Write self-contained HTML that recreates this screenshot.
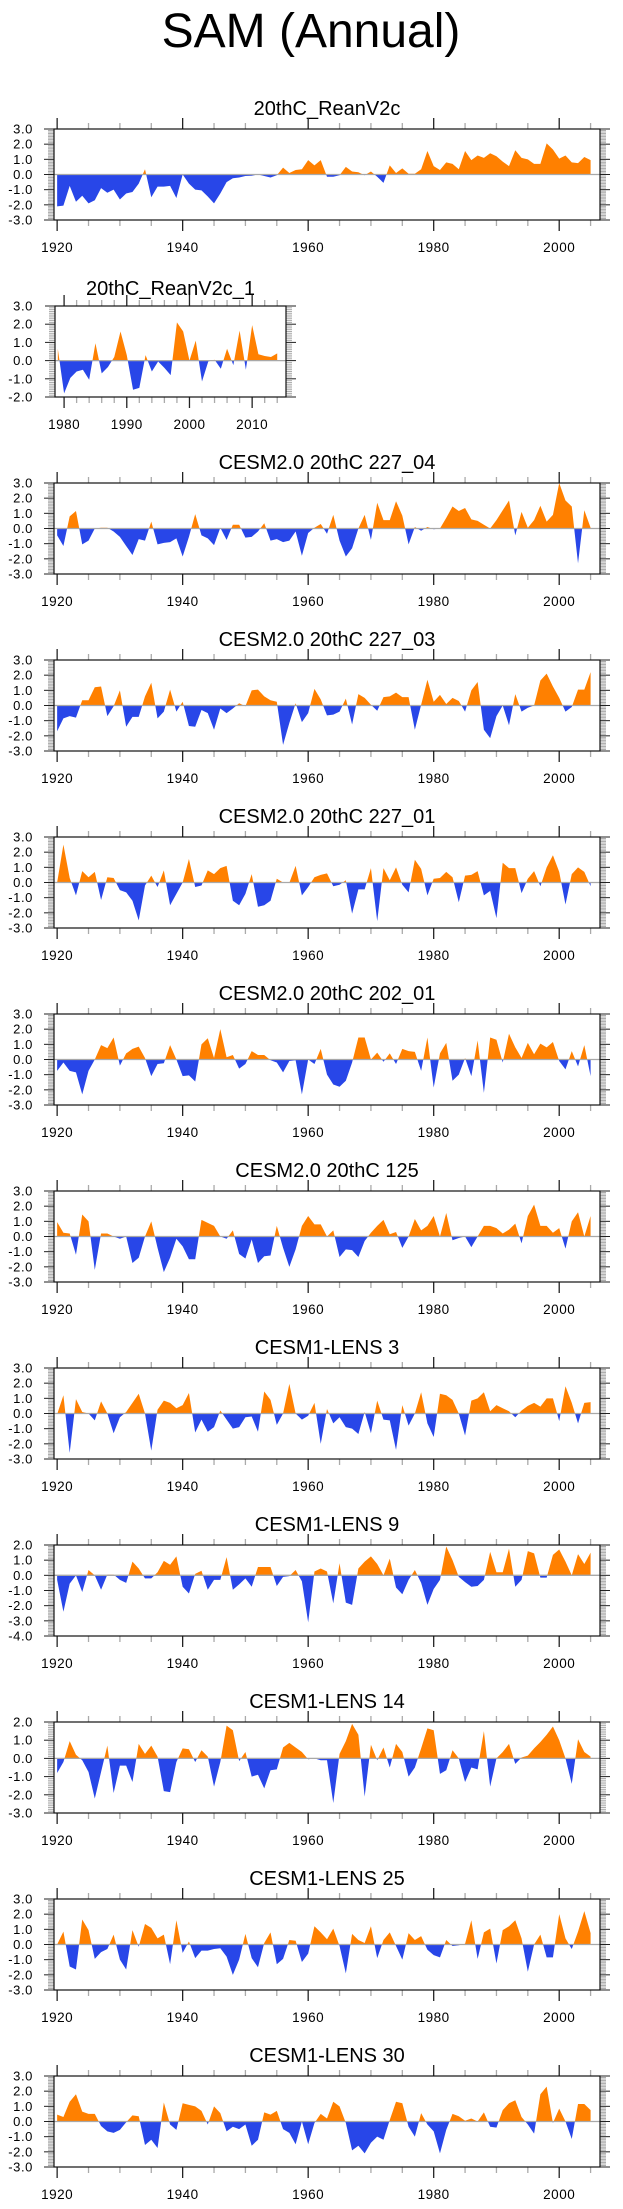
<!DOCTYPE html>
<html><head><meta charset="utf-8"><title>SAM (Annual)</title>
<style>
html,body{margin:0;padding:0;background:#fff;}
svg{display:block;font-family:"Liberation Sans",Arial,sans-serif;}
</style></head>
<body>
<svg id="fig" width="623" height="2209" viewBox="0 0 623 2209" xmlns="http://www.w3.org/2000/svg">
<text x="311" y="47" text-anchor="middle" font-size="48">SAM (Annual)</text>
</svg>
<script>
// ---- data (SAM index values) ----
const startMain = 1920;
const start2 = 1979;
const xTicksMain = [1920,1940,1960,1980,2000];
const xTicks2 = [1980,1990,2000,2010];
const yTicksStd = [3,2,1,0,-1,-2,-3];
const yTicks2 = [3,2,1,0,-1,-2];
const yTicks9 = [2,1,0,-1,-2,-3,-4];
const yTicks10 = [2,1,0,-1,-2,-3];
const titles = ["20thC_ReanV2c","20thC_ReanV2c_1","CESM2.0 20thC 227_04","CESM2.0 20thC 227_03","CESM2.0 20thC 227_01","CESM2.0 20thC 202_01","CESM2.0 20thC 125","CESM1-LENS 3","CESM1-LENS 9","CESM1-LENS 14","CESM1-LENS 25","CESM1-LENS 30"];

const reanV2c = [-2.1,-2.05,-0.75,-1.8,-1.4,-1.9,-1.7,-0.9,-1.2,-1.0,-1.65,-1.25,-1.15,-0.6,0.35,-1.5,-0.8,-0.8,-0.75,-1.55,0,-0.6,-1.0,-1.05,-1.45,-1.9,-1.25,-0.5,-0.25,-0.2,-0.1,-0.08,0,-0.1,-0.2,-0.05,0.45,0.1,0.3,0.35,0.95,0.6,0.95,-0.15,-0.15,-0.05,0.5,0.2,0.15,-0.05,0.2,-0.15,-0.55,0.6,0.1,0.4,0.05,0.05,0.35,1.55,0.55,0.3,0.8,0.7,0.35,1.55,0.95,1.25,1.1,1.4,1.2,0.85,0.55,1.6,1.1,1.0,0.7,0.7,2.05,1.65,1.05,1.25,0.8,0.75,1.15,0.95];
const reanV2c1 = [0.65,-1.8,-0.95,-0.6,-0.5,-1.05,0.95,-0.7,-0.35,0.2,1.6,0.3,-1.6,-1.5,0.3,-0.6,-0.05,-0.4,-0.8,2.1,1.6,0,1.1,-1.15,-0.05,0.05,-0.45,0.65,-0.25,1.65,-0.5,1.95,0.35,0.25,0.2,0.4];
const c227_04 = [-0.45,-1.15,0.8,1.15,-1.05,-0.8,0,0.05,0.05,-0.2,-0.55,-1.15,-1.75,-0.7,-0.8,0.45,-1.05,-0.95,-0.9,-0.65,-1.85,-0.55,0.95,-0.45,-0.65,-1.1,0.05,-0.75,0.25,0.25,-0.6,-0.55,-0.2,0.35,-0.8,-0.7,-0.9,-0.8,-0.2,-1.8,-0.3,0.05,0.3,-0.35,0.9,-0.8,-1.85,-1.3,0,0.9,-0.75,1.7,0.55,0.55,1.8,0.85,-1.05,0.1,-0.15,0.1,-0.05,0,0.7,1.45,1.15,1.35,0.6,0.5,0.25,0,0.55,1.2,1.85,-0.45,1.1,0.05,0.55,1.5,0.45,0.9,3.0,1.85,1.45,-2.3,1.2,0.05];
const c227_03 = [-1.7,-0.85,-0.7,-0.8,0.35,0.35,1.2,1.25,-0.7,-0.05,1.0,-1.4,-0.75,-0.75,0.6,1.5,-0.85,-0.4,1.05,-0.4,0.25,-1.35,-1.4,-0.3,-0.5,-1.6,-0.2,-0.5,-0.2,0.15,-0.05,1.0,1.05,0.6,0.35,0.25,-2.6,-1.15,0.15,-1.1,-0.5,1.1,0.4,-0.65,-0.6,-0.4,0.45,-1.25,0.75,0.5,0.05,-0.35,0.55,0.6,0.85,0.55,0.55,-1.6,0.05,1.7,0.25,0.7,0.1,0.5,0.3,-0.4,1.0,1.55,-1.6,-2.15,-0.7,0,-1.3,0.75,-0.4,-0.15,0,1.65,2.1,1.25,0.5,-0.4,-0.1,1.05,1.05,2.2];
const c227_01 = [0,2.5,0.3,-0.85,0.75,0.35,0.7,-1.15,0.35,0.3,-0.5,-0.65,-1.2,-2.5,-0.2,0.45,-0.3,0.8,-1.5,-0.75,0,1.55,-0.3,-0.2,0.8,0.55,0.95,1.1,-1.2,-1.5,-0.75,0.55,-1.6,-1.5,-1.2,0.25,0,-0.02,1.1,-0.85,-0.3,0.35,0.5,0.6,-0.25,-0.15,0.15,-2.05,-0.45,-0.45,0.95,-2.55,0.95,0.15,1.0,-0.15,-0.65,1.5,0.9,-0.85,0.25,0.3,0.7,0.35,-1.3,0.45,0.5,0.75,-0.85,-0.55,-2.35,1.3,0.95,0.95,-0.7,0.25,0.75,-0.25,1.0,1.8,0.7,-1.45,0.55,1.0,0.7,-0.25];
const c202_01 = [-0.75,-0.2,-0.75,-0.85,-2.3,-0.75,0,0.95,0.75,1.45,-0.4,0.4,0.7,0.85,0.1,-1.1,-0.3,-0.25,0.95,0,-1.1,-1.05,-1.45,1.0,1.4,0.1,2.0,0.15,0.3,-0.6,-0.3,0.55,0.3,0.3,-0.05,-0.2,-0.85,-0.1,-0.05,-2.3,0,-0.3,0.7,-1.0,-1.65,-1.8,-1.4,-0.2,1.45,1.45,0,0.45,-0.15,0.4,-0.3,0.7,0.55,0.5,-0.75,1.45,-1.85,0.4,1.1,-1.4,-1.0,0.1,-1.1,1.25,-2.2,1.45,1.3,-0.2,1.7,0.8,0.1,1.1,0.35,1.05,0.8,1.15,-0.1,-0.65,0.55,-0.45,0.95,-1.1];
const c125 = [0.95,0.25,0.2,-1.2,1.45,1.0,-2.2,0.2,0.2,0,-0.15,0,-1.75,-1.4,0,1.0,-0.75,-2.35,-1.4,-0.15,-0.65,-1.5,-1.5,1.1,0.9,0.7,0,-0.15,0.4,-1.15,-1.45,-0.2,-1.75,-1.3,-1.25,0.7,-0.75,-2.0,-0.85,0.7,1.35,0.8,0.8,0,0.4,-1.35,-0.85,-0.9,-1.35,-0.3,0.25,0.7,1.1,0.15,0.3,-0.75,0,1.15,0.4,0.7,1.35,0,1.55,-0.25,-0.1,0,-0.7,0,0.7,0.7,0.55,0.2,0.45,0.85,-0.45,1.35,2.1,0.7,0.7,0.25,0.55,-0.8,1.0,1.6,0,1.35];
const lens3 = [-0.05,1.2,-2.6,0.95,0.1,0,-0.45,0.8,0,-1.3,-0.25,0.1,0.7,1.3,0,-2.45,0.25,0.85,0.7,0.35,0.55,1.35,-1.25,-0.4,-1.2,-0.9,0.2,-0.4,-1.0,-0.9,-0.25,-0.2,-1.2,1.45,0.9,-0.75,0,1.95,0,-0.4,-0.15,0.7,-2.0,0.3,-0.65,-0.25,-0.9,-1.0,-1.35,0.1,-1.3,0.85,-0.4,-0.45,-2.4,0.55,-0.8,0,1.4,-0.65,-1.55,1.3,1.2,0.9,0,-1.45,0.85,1.0,1.4,0.15,0.55,0.35,0.15,-0.25,0.2,0.5,0.7,0.45,1.0,1.0,-0.5,1.8,0.7,-0.65,0.7,0.75];
const lens9 = [-0.3,-2.4,-0.55,0,-1.1,0.35,0,-0.95,0.05,0.05,-0.3,-0.5,0.9,0.45,-0.2,-0.2,0.2,0.95,0.7,1.25,-0.75,-1.2,0.1,0.3,-0.95,-0.3,-0.3,1.2,-0.95,-0.6,-0.2,-0.75,0.55,0.55,0.55,-0.7,-0.1,-0.05,0.35,-0.4,-3.1,0.25,0.45,0.25,-1.85,0.8,-1.8,-1.95,0.45,0.9,1.25,0.75,0,1.1,-0.8,-1.25,-0.3,0.35,-0.5,-1.95,-0.9,-0.3,1.9,1.0,-0.1,-0.45,-0.75,-0.7,-0.3,1.55,0.2,0.2,1.75,-0.75,-0.3,1.6,1.45,-0.15,-0.15,1.35,1.7,0.9,0,1.4,0.75,1.5];
const lens14 = [-0.8,-0.2,0.95,0.2,-0.1,-0.75,-2.2,-0.75,0.7,-1.9,-0.4,-0.4,-1.3,0.8,0.25,0.7,0.1,-1.8,-1.85,-0.2,0.55,0.5,-0.2,0.45,0.1,-1.55,-0.2,1.8,1.55,-0.15,0.35,-1.0,-0.9,-1.65,-0.65,-0.6,0.6,0.85,0.6,0.35,-0.05,0,-0.1,-0.1,-2.45,0.25,0.95,1.9,1.3,-2.1,0.75,-0.1,0.6,-0.5,0.8,0.35,-1.0,-0.5,0.55,1.65,1.55,-0.85,-0.65,0.45,0,-1.3,-0.5,-0.6,1.5,-1.55,0,0.35,0.8,-0.3,0.05,0.15,0.55,0.9,1.3,1.75,1.0,0,-1.4,1.05,0.35,0.1];
const lens25 = [0,0.85,-1.45,-1.65,1.65,0.95,-0.95,-0.5,-0.3,0.65,-1.0,-1.65,0.95,-0.15,1.35,1.1,0.4,0.65,-1.3,1.6,-0.55,0.2,-0.9,-0.4,-0.4,-0.3,-0.25,-0.8,-2.0,-1.0,0.7,-0.9,-1.5,0.1,0.8,-1.3,-0.95,0.3,0.25,-1.15,-0.6,1.2,0.8,0.35,1.05,-0.1,-1.9,0.7,0.3,0.1,1.2,-0.9,0.3,0.8,-0.1,-1.0,0.75,0.3,0.55,-0.35,-0.7,-0.85,0.3,-0.1,-0.05,0.05,1.6,-0.95,0.8,1.05,-1.25,0.95,1.2,1.6,0.4,-1.8,0,0.65,-0.85,-0.85,2.0,0.4,-0.3,0.85,2.2,0.75];
const lens30 = [0.45,0.3,1.3,1.8,0.65,0.5,0.5,-0.3,-0.65,-0.75,-0.55,-0.05,0.4,0.35,-1.55,-1.2,-1.75,1.25,-0.2,-0.55,1.2,1.1,1.0,0.7,-0.2,1.0,0.55,-0.65,-0.35,-0.5,-0.2,-1.6,-1.2,0.6,0.45,0.7,-0.5,-0.75,-1.5,0,-1.5,-0.1,0.5,0.2,1.3,1.0,-0.1,-1.9,-1.6,-2.1,-1.4,-1.0,-1.2,0.1,1.3,1.2,-0.35,-1.0,0.55,-0.2,-0.65,-2.1,-0.55,0.5,0.35,0.05,0.2,0,0.6,-0.35,-0.4,0.75,1.2,1.4,0.3,-0.2,-0.8,1.8,2.3,-0.1,0.85,0,-1.15,1.15,1.15,0.75];

// ---- layout ----
const NS = "http://www.w3.org/2000/svg";
const svg = document.getElementById('fig');
const mainBox = {x0:54, x1:600, xmin:1919.5, xmax:2006.5, h:91};
const panels = [
  {data:reanV2c, start:startMain, top:129, yt:yTicksStd, box:mainBox, xt:xTicksMain, minor:5, tdy:-21},
  {data:reanV2c1, start:start2, top:306, yt:yTicks2, box:{x0:55,x1:286,xmin:1978.55,xmax:2015.4,h:91}, xt:xTicks2, minor:2, tdy:-18},
  {data:c227_04, start:startMain, top:483, yt:yTicksStd, box:mainBox, xt:xTicksMain, minor:5, tdy:-21},
  {data:c227_03, start:startMain, top:660, yt:yTicksStd, box:mainBox, xt:xTicksMain, minor:5, tdy:-21},
  {data:c227_01, start:startMain, top:837, yt:yTicksStd, box:mainBox, xt:xTicksMain, minor:5, tdy:-21},
  {data:c202_01, start:startMain, top:1014, yt:yTicksStd, box:mainBox, xt:xTicksMain, minor:5, tdy:-21},
  {data:c125, start:startMain, top:1191, yt:yTicksStd, box:mainBox, xt:xTicksMain, minor:5, tdy:-21},
  {data:lens3, start:startMain, top:1368, yt:yTicksStd, box:mainBox, xt:xTicksMain, minor:5, tdy:-21},
  {data:lens9, start:startMain, top:1545, yt:yTicks9, box:mainBox, xt:xTicksMain, minor:5, tdy:-21},
  {data:lens14, start:startMain, top:1722, yt:yTicks10, box:mainBox, xt:xTicksMain, minor:5, tdy:-21},
  {data:lens25, start:startMain, top:1899, yt:yTicksStd, box:mainBox, xt:xTicksMain, minor:5, tdy:-21},
  {data:lens30, start:startMain, top:2076, yt:yTicksStd, box:mainBox, xt:xTicksMain, minor:5, tdy:-21}
];

function mk(tag, attrs, parent){
  const e = document.createElementNS(NS, tag);
  for (const k in attrs) e.setAttribute(k, attrs[k]);
  (parent||svg).appendChild(e);
  return e;
}

panels.forEach((p, pi) => {
  const b = p.box, top = p.top, bot = top + b.h;
  const ymax = p.yt[0], ymin = p.yt[p.yt.length-1];
  const X = yr => b.x0 + (yr - b.xmin) / (b.xmax - b.xmin) * (b.x1 - b.x0);
  const Y = v => top + (ymax - v) / (ymax - ymin) * b.h;
  const g = mk('g', {});
  
  

  const t = mk('text', {x:(b.x0+b.x1)/2, y:top+p.tdy+7, 'text-anchor':'middle', 'font-size':20}, g);
  
  
  t.textContent = titles[pi];

  // clip paths
  const y0 = Y(0);
  const cpA = mk('clipPath', {id:'ca'+pi}, g);
  mk('rect', {x:b.x0, y:top, width:b.x1-b.x0, height:y0-top}, cpA);
  const cpB = mk('clipPath', {id:'cb'+pi}, g);
  mk('rect', {x:b.x0, y:y0, width:b.x1-b.x0, height:bot-y0}, cpB);

  let d = 'M' + X(p.start).toFixed(2) + ',' + y0.toFixed(2);
  p.data.forEach((v, i) => { d += ' L' + X(p.start+i).toFixed(2) + ',' + Y(v).toFixed(2); });
  d += ' L' + X(p.start+p.data.length-1).toFixed(2) + ',' + y0.toFixed(2) + ' Z';
  const pos = mk('path', {d:d, fill:'#ff8000', 'clip-path':'url(#ca'+pi+')'}, g);
  
  
  const neg = mk('path', {d:d, fill:'#2846e8', 'clip-path':'url(#cb'+pi+')'}, g);
  
  

  const zl = mk('line', {x1:b.x0, x2:b.x1, y1:y0, y2:y0, stroke:'#a8a8a8', 'stroke-width':1.3}, g);
  
  

  // y minor ticks
  for (let k = Math.round(ymin*10); k <= Math.round(ymax*10); k++) {
    const yy = Y(k/10);
    const major = k % 10 === 0;
    const len = major ? 10 : 6;
    const col = major ? '#222' : '#aaa';
    mk('line', {x1:b.x0-len, x2:b.x0, y1:yy, y2:yy, stroke:col, 'stroke-width':1}, g);
    mk('line', {x1:b.x1, x2:b.x1+len, y1:yy, y2:yy, stroke:col, 'stroke-width':1}, g);
  }
  // x ticks
  const first = Math.ceil(b.xmin / p.minor) * p.minor;
  for (let yr = first; yr <= b.xmax; yr += p.minor) {
    const xx = X(yr);
    const major = p.xt.indexOf(yr) >= 0 || (p.minor === 5 && yr % 20 === 0) || (p.minor === 2 && yr % 10 === 0);
    const len = major ? 11 : 6;
    const col = major ? '#222' : '#aaa';
    mk('line', {x1:xx, x2:xx, y1:top-len, y2:top, stroke:col, 'stroke-width':1.3}, g);
    mk('line', {x1:xx, x2:xx, y1:bot, y2:bot+len, stroke:col, 'stroke-width':1.3}, g);
  }
  // frame
  const fr = mk('rect', {x:b.x0, y:top, width:b.x1-b.x0, height:b.h, fill:'none', stroke:'#111', 'stroke-width':1.2}, g);
  
  

  // y labels
  p.yt.forEach(v => {
    const tx = mk('text', {x:33, y:Y(v)+4.5, 'text-anchor':'end', 'font-size':13, 'letter-spacing':0.6}, g);
    
    
    tx.textContent = v.toFixed(1);
  });
  // x labels
  p.xt.forEach(yr => {
    const tx = mk('text', {x:X(yr), y:bot+32, 'text-anchor':'middle', 'font-size':13.5, 'letter-spacing':0.5}, g);
    
    
    tx.textContent = String(yr);
  });
});
</script>
</body></html>
